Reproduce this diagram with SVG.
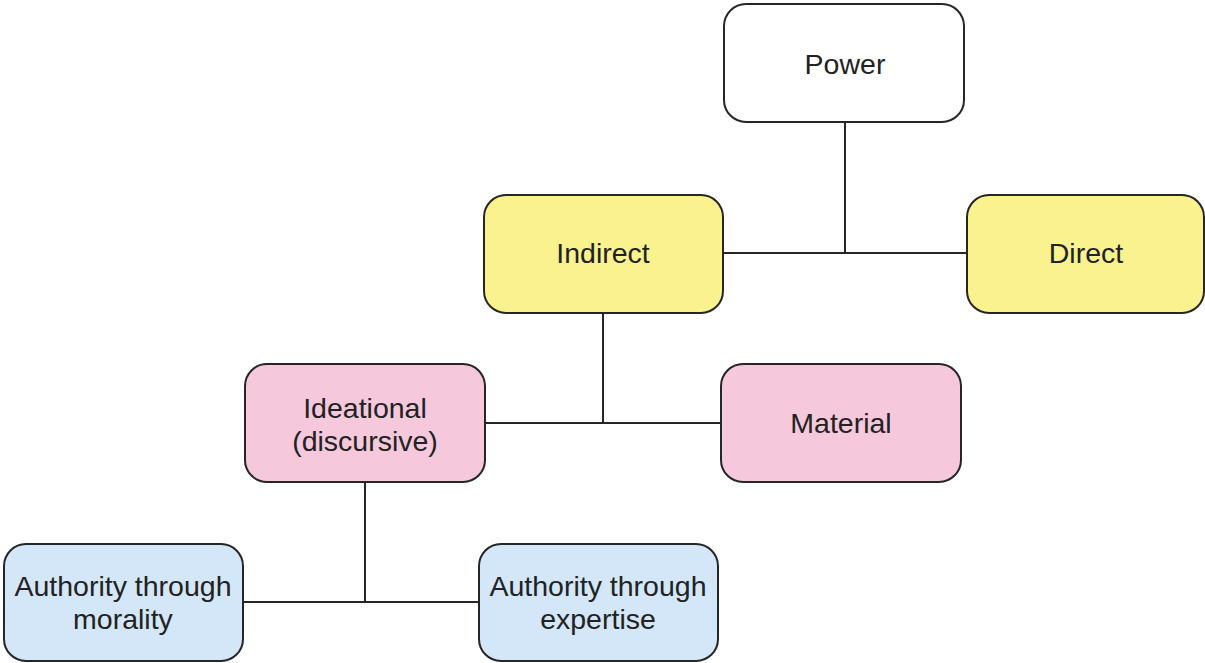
<svg xmlns="http://www.w3.org/2000/svg" width="1205" height="663" viewBox="0 0 1205 663">
<style>
.box{stroke:#262626;stroke-width:2}
.w{fill:#ffffff}.y{fill:#faf28e}.p{fill:#f5c8dc}.b{fill:#d3e7f8}
text{font-family:"Liberation Sans",Arial,sans-serif;font-size:28.5px;fill:#222;text-anchor:middle;dominant-baseline:central}
.c{stroke:#262626;stroke-width:2;fill:none}
</style>
<rect width="1205" height="663" fill="#fff"/>
<g id="connectors">
<path class="c" d="M845 122V253M723 253H967"/>
<path class="c" d="M603 313V423M485 423H721"/>
<path class="c" d="M365 482V602M243 602H479"/>
</g>
<g id="power"><rect class="box w" x="724" y="4" width="240" height="118" rx="22"/><text x="845" y="64">Power</text></g>
<g id="indirect"><rect class="box y" x="484" y="195" width="239" height="118" rx="22"/><text x="603" y="253">Indirect</text></g>
<g id="direct"><rect class="box y" x="967" y="195" width="237" height="118" rx="22"/><text x="1086" y="253">Direct</text></g>
<g id="ideational"><rect class="box p" x="245" y="364" width="240" height="118" rx="22"/><text x="365" y="408">Ideational</text><text x="365" y="441">(discursive)</text></g>
<g id="material"><rect class="box p" x="721" y="364" width="240" height="118" rx="22"/><text x="841" y="423">Material</text></g>
<g id="morality"><rect class="box b" x="4" y="544" width="239" height="117" rx="22"/><text x="123" y="586">Authority through</text><text x="123" y="619">morality</text></g>
<g id="expertise"><rect class="box b" x="479" y="544" width="239" height="117" rx="22"/><text x="598" y="586">Authority through</text><text x="598" y="619">expertise</text></g>
</svg>
